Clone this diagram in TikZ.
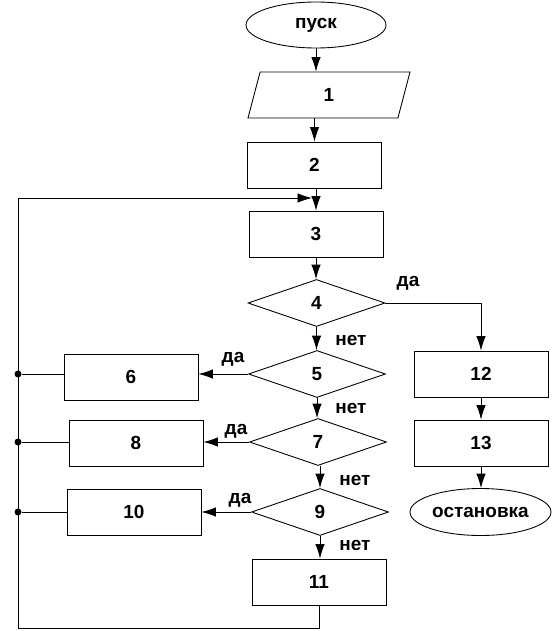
\documentclass[tikz,border=0pt]{standalone}
\usepackage{fontspec}
\setmainfont{Liberation Sans}
\usetikzlibrary{shapes.geometric,arrows.meta}

\begin{document}
\begin{tikzpicture}[
        font=\fontsize{10.8}{12}\selectfont\bfseries,
        line width=0.5pt,
        >={Latex[length=2.9mm,width=1.9mm]},
        blok/.style={draw,minimum width=2.68cm,minimum height=0.92cm},
        romb/.style={draw,diamond,inner sep=0pt,minimum width=2.74cm,minimum height=0.94cm},
        oval/.style={draw,ellipse,inner sep=0pt,minimum width=2.8cm,minimum height=0.92cm},
        vvod/.style={draw,trapezium,trapezium left angle=64,trapezium right angle=116,
            trapezium stretches body,minimum width=3.24cm,minimum height=0.92cm},
        tochka/.style={circle,fill,inner sep=0pt,minimum size=1.4mm}]
        \useasboundingbox (0,0) rectangle (11.06,-12.62);

        % bloki
        \node[oval] (pusk) at (6.32,-0.5) {пуск};
        \node[vvod] (b1) at (6.58,-1.9) {1};
        \node[blok] (b2) at (6.29,-3.3) {2};
        \node[blok] (b3) at (6.32,-4.68) {3};
        \node[romb] (b4) at (6.33,-6.06) {4};
        \node[romb] (b5) at (6.34,-7.48) {5};
        \node[blok] (b6) at (2.62,-7.54) {6};
        \node[romb] (b7) at (6.36,-8.84) {7};
        \node[blok] (b8) at (2.72,-8.86) {8};
        \node[romb] (b9) at (6.4,-10.24) {9};
        \node[blok] (b10) at (2.68,-10.24) {10};
        \node[blok] (b11) at (6.38,-11.64) {11};
        \node[blok] (b12) at (9.62,-7.48) {12};
        \node[blok] (b13) at (9.62,-8.86) {13};
        \node[oval,minimum width=2.82cm,minimum height=0.94cm] (stop) at (9.61,-10.24) {остановка};

        % podpisi
        \node (da4) at (8.16,-5.66) {да};
        \node (net4) at (7.02,-6.8) {нет};
        \node (da5) at (4.66,-7.18) {да};
        \node (net5) at (7.02,-8.16) {нет};
        \node (da7) at (4.72,-8.62) {да};
        \node (net7) at (7.1,-9.6) {нет};
        \node (da9) at (4.8,-10.0) {да};
        \node (net9) at (7.1,-10.9) {нет};

        % tochki
        \coordinate (niz) at (0.36,-12.56);
        \coordinate (verh) at (0.36,-3.96);
        \node[tochka] (t6) at (verh |- b5.west) {};
        \node[tochka] (t8) at (verh |- b7.west) {};
        \node[tochka] (t10) at (verh |- b9.west) {};

        \draw[->] (pusk.south) -- (pusk.south |- b1.north);
        \draw[->] (b2.north |- b1.south) -- (b2.north);
        \draw[->] (b3.north |- b2.south) -- (b3.north);
        \draw[->] (b3.south) -- (b3.south |- b4.north);
        \draw[->] (b4.south) -- (b4.south |- b5.north);
        \draw[->] (b5.south) -- (b5.south |- b7.north);
        \draw[->] (b9.north |- b7.south) -- (b9.north);
        \draw[->] (b9.south) -- (b9.south |- b11.north);

        \draw[->] (b4.east) -| (b12.north);
        \draw[->] (b12.south) -- (b13.north);
        \draw[->] (b13.south) -- (b13.south |- stop.north);

        \draw[->] (b5.west) -- (b5.west -| b6.east);
        \draw[->] (b7.west) -- (b7.west -| b8.east);
        \draw[->] (b9.west) -- (b9.west -| b10.east);

        \draw (b6.west |- t6) -- (t6);
        \draw (b8.west |- t8) -- (t8);
        \draw (b10.west |- t10) -- (t10);

        % cikl
        \draw[->] (b11.south) |- (niz) -- (verh) -- ([xshift=-0.08cm]b3.north |- verh);
    \end{tikzpicture}
\end{document}
